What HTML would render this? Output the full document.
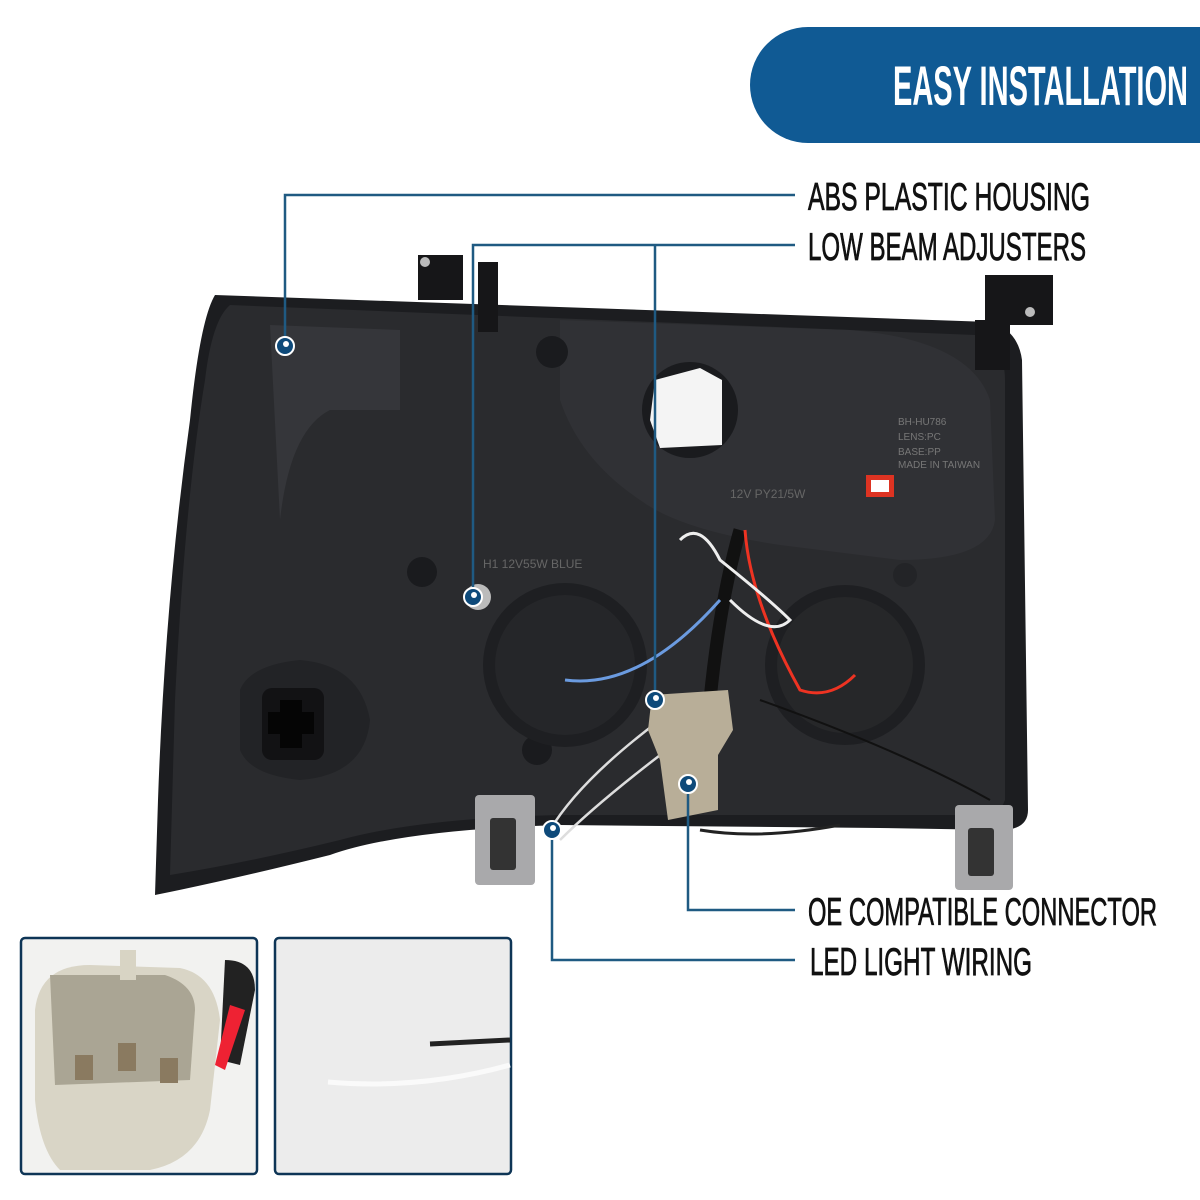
<!DOCTYPE html>
<html><head><meta charset="utf-8"><style>
html,body{margin:0;padding:0;background:#fff;}
svg{display:block;}
text{font-family:"Liberation Sans",sans-serif;}
</style></head><body>
<svg width="1200" height="1200" viewBox="0 0 1200 1200" xmlns="http://www.w3.org/2000/svg">
<rect width="1200" height="1200" fill="#fff"/>
<path d="M808 27 H1200 V143 H808 A58 58 0 0 1 808 27 Z" fill="#105a94"/>
<text x="893" y="105" font-size="56" font-weight="bold" fill="#fff" textLength="295" lengthAdjust="spacingAndGlyphs">EASY INSTALLATION</text>

<path d="M215 295 L990 322 Q1018 330 1022 360 L1028 810 Q1028 830 1000 830 L880 828 L560 825 Q400 830 330 855 Q230 880 155 895 L158 800 Q165 600 190 420 Q200 320 215 295 Z" fill="#1c1d20"/>
<path d="M230 305 L975 335 Q1005 345 1005 380 L1005 800 Q1000 815 980 815 L560 815 Q420 818 340 840 Q250 862 170 875 L175 700 Q185 500 205 380 Q212 320 230 305 Z" fill="#2a2b2e"/>
<path d="M270 325 L400 330 L400 410 L330 410 Q290 430 280 520 Z" fill="#35363a"/>
<path d="M560 320 L850 330 Q970 340 990 400 L995 520 Q990 560 900 560 L780 545 Q680 530 640 500 Q580 460 560 400 Z" fill="#303135"/>
<circle cx="690" cy="410" r="48" fill="#1a1b1e"/>
<path d="M655 380 L700 368 L722 380 L722 445 L660 448 L650 420 Z" fill="#f4f4f4"/>
<circle cx="552" cy="352" r="16" fill="#1a1b1e"/>
<circle cx="422" cy="572" r="15" fill="#1a1b1e"/>
<circle cx="537" cy="750" r="15" fill="#1a1b1e"/>
<circle cx="905" cy="575" r="12" fill="#232427"/>
<circle cx="565" cy="665" r="82" fill="#1e1f22"/>
<circle cx="565" cy="665" r="70" fill="#252629"/>
<circle cx="845" cy="665" r="80" fill="#1e1f22"/>
<circle cx="845" cy="665" r="68" fill="#262729"/>
<path d="M240 690 Q250 665 300 660 Q360 665 370 720 Q365 775 300 780 Q250 775 240 750 Z" fill="#222326"/>
<rect x="262" y="688" width="62" height="72" rx="10" fill="#121214"/>
<path d="M280 700 h22 v12 h12 v22 h-12 v14 h-22 v-14 h-12 v-22 h12z" fill="#050505"/>
<rect x="866" y="475" width="28" height="22" fill="#d32"/>
<rect x="871" y="480" width="18" height="12" fill="#fff"/>
<text x="898" y="425" font-size="10" fill="#777">BH-HU786</text>
<text x="898" y="440" font-size="10" fill="#777">LENS:PC</text>
<text x="898" y="455" font-size="10" fill="#777">BASE:PP</text>
<text x="898" y="468" font-size="10" fill="#777">MADE IN TAIWAN</text>
<text x="730" y="498" font-size="12" fill="#666">12V PY21/5W</text>
<text x="483" y="568" font-size="12" fill="#666">H1 12V55W BLUE</text>
<rect x="418" y="255" width="45" height="45" fill="#161618"/>
<rect x="478" y="262" width="20" height="70" fill="#161618"/>
<circle cx="425" cy="262" r="5" fill="#bbb"/>
<rect x="985" y="275" width="68" height="50" fill="#161618"/>
<rect x="975" y="320" width="35" height="50" fill="#161618"/>
<circle cx="1030" cy="312" r="5" fill="#bbb"/>
<circle cx="478" cy="597" r="13" fill="#bbb"/>
<rect x="475" y="795" width="60" height="90" rx="4" fill="#a9a9ab"/>
<rect x="490" y="818" width="26" height="52" rx="3" fill="#333"/>
<rect x="955" y="805" width="58" height="85" rx="4" fill="#a9a9ab"/>
<rect x="968" y="828" width="26" height="48" rx="3" fill="#333"/>
<path d="M740 530 Q720 600 710 700" stroke="#111" stroke-width="13" fill="none"/>
<path d="M745 530 Q750 600 800 690 Q830 700 855 675" stroke="#e32" stroke-width="3" fill="none"/>
<path d="M565 680 Q640 690 720 600" stroke="#6b9be0" stroke-width="3" fill="none"/>
<path d="M680 540 Q700 520 720 560 Q770 600 790 620 Q770 640 730 600" stroke="#eee" stroke-width="3" fill="none"/>
<path d="M660 720 Q580 780 550 830 M680 740 Q600 800 560 840" stroke="#ddd" stroke-width="2.5" fill="none"/>
<path d="M700 830 Q760 840 840 825" stroke="#222" stroke-width="3" fill="none"/>
<path d="M760 700 Q900 750 990 800" stroke="#111" stroke-width="2" fill="none"/>
<path d="M652 695 L728 690 L733 730 L718 755 L718 810 L668 820 L660 760 L648 730 Z" fill="#b8ae98"/>

<g stroke="#1f5a82" stroke-width="2.5" fill="none">
<path d="M285 346 V195 H795"/>
<path d="M473 597 V245 H795"/>
<path d="M655 700 V245"/>
<path d="M688 784 V910 H795"/>
<path d="M552 830 V960 H795"/>
</g>
<g fill="#0e4a7a" stroke="#fff" stroke-width="2">
<circle cx="285" cy="346" r="9"/><circle cx="473" cy="597" r="9"/>
<circle cx="655" cy="700" r="9"/><circle cx="688" cy="784" r="9"/>
<circle cx="552" cy="830" r="9"/>
</g>
<g fill="#fff"><circle cx="286" cy="344" r="3"/><circle cx="474" cy="595" r="3"/><circle cx="656" cy="698" r="3"/><circle cx="689" cy="782" r="3"/><circle cx="553" cy="828" r="3"/></g>

<g fill="#111" stroke="#111" stroke-width="0.8" font-size="39">
<text x="808" y="210" textLength="282" lengthAdjust="spacingAndGlyphs">ABS PLASTIC HOUSING</text>
<text x="808" y="260" textLength="278" lengthAdjust="spacingAndGlyphs">LOW BEAM ADJUSTERS</text>
<text x="808" y="925" textLength="349" lengthAdjust="spacingAndGlyphs">OE COMPATIBLE CONNECTOR</text>
<text x="810" y="975" textLength="222" lengthAdjust="spacingAndGlyphs">LED LIGHT WIRING</text>
</g>

<rect x="21" y="938" width="236" height="236" rx="4" fill="#f2f2f0" stroke="#0e3556" stroke-width="2.5"/>
<path d="M35 1010 Q40 965 90 965 L180 968 Q215 975 220 1020 L210 1110 Q200 1160 150 1170 L60 1170 Q40 1150 35 1100 Z" fill="#d9d5c6"/>
<path d="M50 975 L165 975 Q195 985 195 1010 L190 1080 L55 1085 Z" fill="#aaa594"/>
<rect x="120" y="950" width="16" height="30" fill="#d8d4c4"/>
<path d="M225 960 Q255 960 255 990 L240 1065 L220 1060 Z" fill="#222"/>
<path d="M230 1005 L245 1010 L225 1070 L215 1065 Z" fill="#e23"/>
<rect x="75" y="1055" width="18" height="25" fill="#8a7a60"/><rect x="118" y="1043" width="18" height="28" fill="#8a7a60"/><rect x="160" y="1058" width="18" height="25" fill="#8a7a60"/>
<rect x="275" y="938" width="236" height="236" rx="4" fill="#ececec" stroke="#0e3556" stroke-width="2.5"/>
<path d="M430 1044 L510 1040" stroke="#222" stroke-width="5"/>
<path d="M328 1082 Q420 1090 510 1065" stroke="#fafafa" stroke-width="5" fill="none"/>
</svg>
</body></html>
